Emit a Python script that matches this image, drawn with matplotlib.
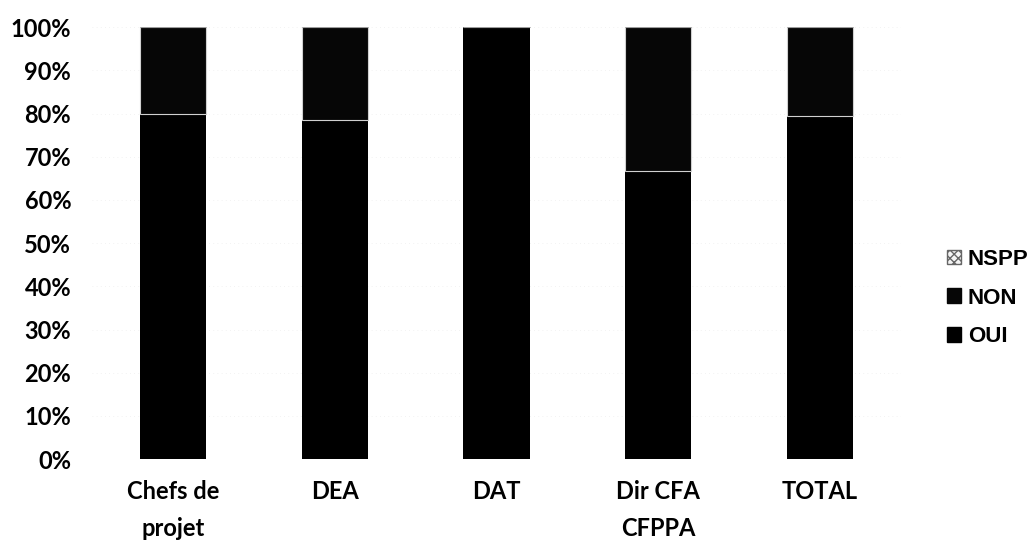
import numpy as np
import matplotlib.pyplot as plt
from matplotlib.patches import Patch

categories = ["Chefs de\nprojet", "DEA", "DAT", "Dir CFA\nCFPPA", "TOTAL"]
oui = [80.0, 78.6, 100.0, 66.7, 79.5]
non = [20.0, 21.4, 0.0, 33.3, 20.5]
nspp = [0.0, 0.0, 0.0, 0.0, 0.0]
yticks = [0, 10, 20, 30, 40, 50, 60, 70, 80, 90, 100]

fig = plt.figure(figsize=(10.29, 5.44), dpi=100)
ax = fig.add_axes([0.0894, 0.156, 0.7862, 0.794])

x = np.arange(len(categories))
width = 0.41
oui_arr = np.array(oui)
non_arr = np.array(non)

ax.bar(x, oui_arr, width, color="#000000", edgecolor="none", zorder=2)
ax.bar(x, non_arr, width, bottom=oui_arr, color="#060606", edgecolor="#d0d0d0",
       linewidth=0.8, zorder=2)
ax.bar(x, nspp, width, bottom=oui_arr + non_arr, color="#f4f4f4", edgecolor="#888888",
       hatch="xxxx", linewidth=0.5, zorder=2)

ax.set_xlim(-0.5, len(categories) - 0.5)
ax.set_ylim(0, 100)
ax.set_yticks(yticks)
ax.set_yticklabels([f"{t}%" for t in yticks])
ax.set_xticks(x)
ax.set_xticklabels(categories)
ax.yaxis.grid(True, color="#eeeeee", linestyle=(0, (1, 4)), linewidth=0.6, zorder=0)
ax.set_axisbelow(True)

for s in ax.spines.values():
    s.set_visible(False)
ax.tick_params(axis="both", length=0, labelsize=17)
ax.tick_params(axis="y", pad=15)
ax.tick_params(axis="x", pad=15)
for lbl in ax.get_xticklabels() + ax.get_yticklabels():
    lbl.set_fontfamily("Lato")
    lbl.set_fontweight("bold")
    lbl.set_linespacing(1.75)

handles = [
    Patch(facecolor="#f4f4f4", edgecolor="#666666", hatch="xxxx", label="NSPP"),
    Patch(facecolor="#060606", edgecolor="#060606", label="NON"),
    Patch(facecolor="#000000", edgecolor="#000000", label="OUI"),
]
fig.legend(handles=handles, loc="center left", bbox_to_anchor=(0.907, 0.452),
           frameon=False, handlelength=0.65, handleheight=0.65, handletextpad=0.3,
           labelspacing=0.8, borderaxespad=0.2,
           prop={"family": "Liberation Sans", "weight": "bold", "size": 16})

fig.savefig("out.png", dpi=100, facecolor="white")
